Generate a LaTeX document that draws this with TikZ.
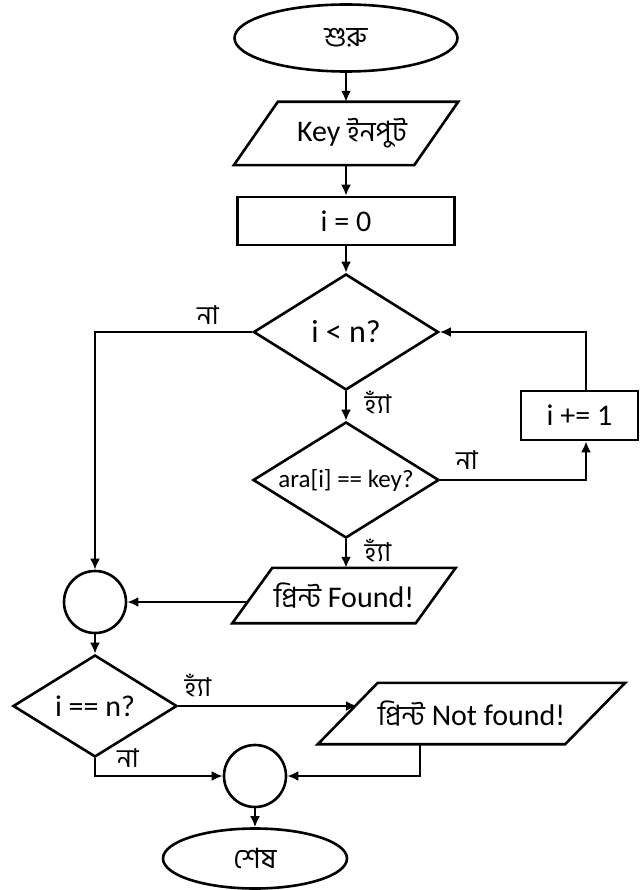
\documentclass[tikz,border=0pt]{standalone}
\usepackage{fontspec}
\setmainfont{Carlito}
\newfontfamily\bnfont[Script=Bengali]{Hind Siliguri}
\usetikzlibrary{shapes.geometric,arrows.meta,calc}
\newcommand\bnt[1]{{\bnfont\fontsize{28}{32}\selectfont #1}}
\newcommand\parashape[2]{\draw[shapeline] ($(#1.north west)+(#2,0)$) -- (#1.north east) -- ($(#1.south east)-(#2,0)$) -- (#1.south west) -- cycle;}
\begin{document}
\begin{tikzpicture}[x=1pt,y=-1pt,
  every node/.style={font=\fontsize{30}{34}\selectfont, inner sep=0pt},
  shapeline/.style={line width=2.6pt, draw=black, line join=miter},
  term/.style={ellipse, shapeline},
  plain/.style={rectangle},
  box/.style={rectangle, shapeline},
  dia/.style={diamond, aspect=1.6, shapeline},
  circ/.style={circle, shapeline},
  conn/.style={line width=2.8pt, -{Latex[length=11pt,width=10pt]}},
  lab/.style={font=\bnfont\fontsize{26}{30}\selectfont}
]
\useasboundingbox (0,0) rectangle (640,890);
\node[term, minimum width=223, minimum height=67] (start) at (346,38) {\bnt{শুরু}};
\node[plain, minimum width=224, minimum height=63] (key) at (346,133.5) {\hspace*{12pt}Key \bnt{ইনপুট}};
\parashape{key}{44}
\node[box, minimum width=217, minimum height=48] (init) at (346,221) {i = 0};
\node[dia, minimum width=185, minimum height=116, font=\fontsize{32}{36}\selectfont] (d1) at (346,332) {i < n?};
\node[dia, minimum width=186, minimum height=116, font=\fontsize{25}{29}\selectfont] (d2) at (346,480) {ara[i] == key?};
\node[box, minimum width=117, minimum height=49] (inc) at (579.5,415.5) {i += 1};
\node[plain, minimum width=223, minimum height=55] (found) at (344,595.5) {\bnt{প্রিন্ট} Found!};
\parashape{found}{40}
\node[circ, minimum size=62] (c1) at (95,602) {};
\node[dia, minimum width=164, minimum height=102] (d3) at (95,706) {i == n?};
\node[plain, minimum width=307, minimum height=61] (nf) at (471.5,713.5) {\bnt{প্রিন্ট} Not found!};
\parashape{nf}{60}
\node[circ, minimum size=62] (c2) at (255,776) {};
\node[term, minimum width=184, minimum height=60] (end) at (255,858.5) {\bnt{শেষ}};
% labels
\node[lab] (l1) at (208,315) {না};
\node[lab] (l2) at (378,402) {হ্যাঁ};
\node[lab] (l3) at (467,460) {না};
\node[lab] (l4) at (378,550) {হ্যাঁ};
\node[lab] (l5) at (198,685) {হ্যাঁ};
\node[lab] (l6) at (128,758) {না};
% connectors
\coordinate (lx) at (586,0);
\coordinate (fin) at (248,602);
\coordinate (nfin) at (357,706);
\coordinate (nfx) at (420,0);
\draw[conn] (start.south) -- (key.north);
\draw[conn] (key.south) -- (init.north);
\draw[conn] (init.south) -- (d1.north);
\draw[conn] (d1.south) -- (d2.north);
\draw[conn] (d1.west) -| (c1.north);
\draw[conn] (d2.east) -| (inc.south -| lx);
\draw[conn] (inc.north -| lx) |- (d1.east);
\draw[conn] (d2.south) -- (d2.south |- found.north);
\draw[conn] (fin) -- (c1.east);
\draw[conn] (c1.south) -- (d3.north);
\draw[conn] (d3.east) -- (nfin);
\draw[conn] (d3.south) |- (c2.west);
\draw[conn] (nf.south -| nfx) |- (c2.east);
\draw[conn] (c2.south) -- (end.north);
\end{tikzpicture}
\end{document}
